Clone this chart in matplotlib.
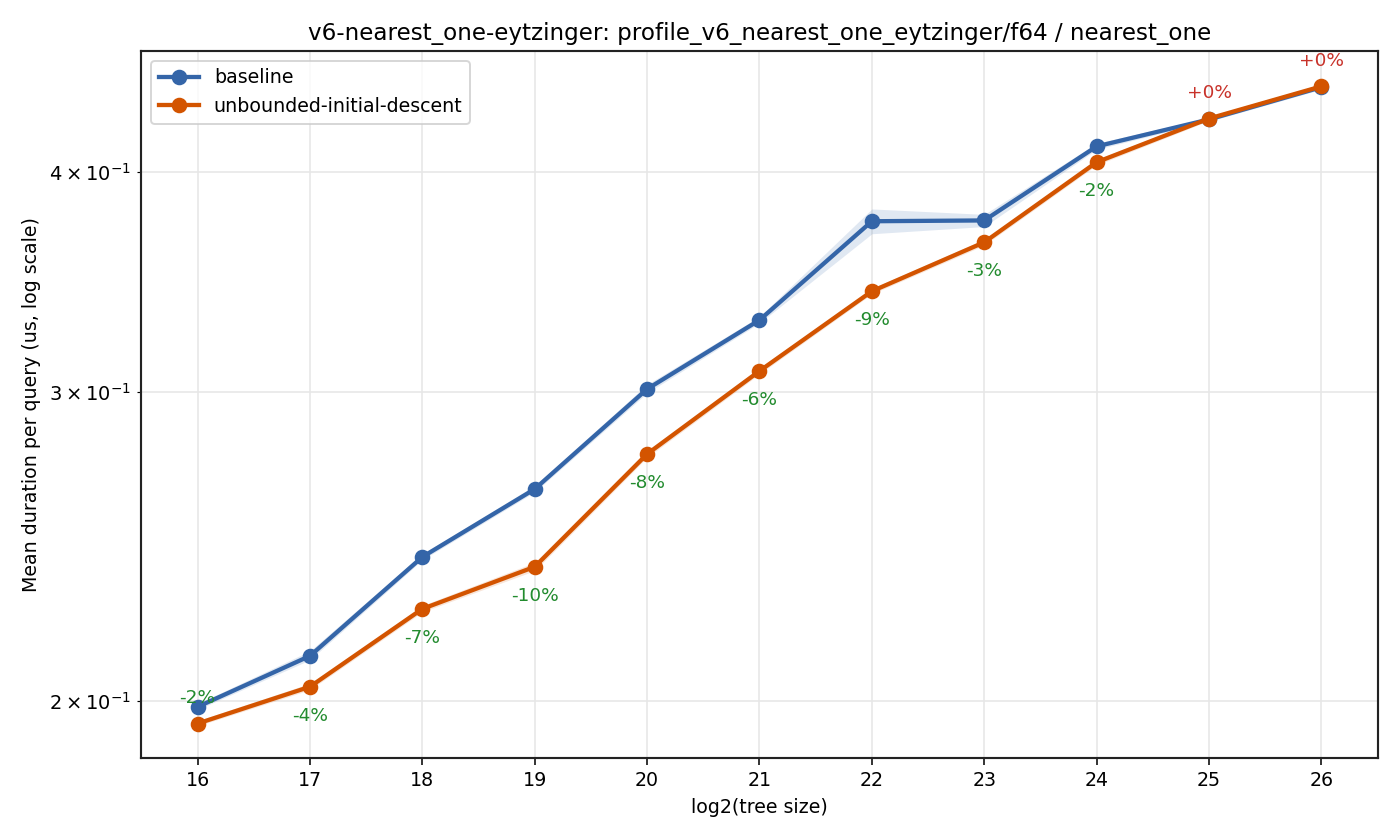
import numpy as np
import matplotlib.pyplot as plt

# log2(tree size)
sizes = [16, 17, 18, 19, 20, 21, 22, 23, 24, 25, 26]

# mean duration per query (us)
baseline = [0.1984, 0.2121, 0.2415, 0.2640, 0.3010, 0.3295, 0.3751, 0.3755, 0.4138, 0.4287, 0.4472]
base_lo = [0.1977, 0.2110, 0.2406, 0.2630, 0.2995, 0.3282, 0.3690, 0.3725, 0.4122, 0.4276, 0.4460]
base_hi = [0.1992, 0.2135, 0.2425, 0.2652, 0.3028, 0.3310, 0.3812, 0.3785, 0.4155, 0.4298, 0.4484]

candidate = [0.1941, 0.2037, 0.2256, 0.2384, 0.2764, 0.3082, 0.3422, 0.3649, 0.4053, 0.4292, 0.4477]
cand_lo = [0.1935, 0.2029, 0.2247, 0.2372, 0.2752, 0.3070, 0.3410, 0.3635, 0.4038, 0.4280, 0.4465]
cand_hi = [0.1948, 0.2046, 0.2266, 0.2398, 0.2777, 0.3095, 0.3435, 0.3663, 0.4068, 0.4304, 0.4490]

pct_labels = ["-2%", "-4%", "-7%", "-10%", "-8%", "-6%", "-9%", "-3%", "-2%", "+0%", "+0%"]

blue = "#3465a8"
orange = "#d35400"

fig, ax = plt.subplots(figsize=(10, 6), dpi=140)
fig.subplots_adjust(left=0.101, right=0.984, top=0.939, bottom=0.098)

ax.fill_between(sizes, base_lo, base_hi, color=blue, alpha=0.15, lw=0)
ax.plot(sizes, baseline, color=blue, lw=2.2, marker="o", ms=7, label="baseline")
ax.fill_between(sizes, cand_lo, cand_hi, color=orange, alpha=0.15, lw=0)
ax.plot(sizes, candidate, color=orange, lw=2.2, marker="o", ms=7,
        label="unbounded-initial-descent")

for i, (x, v, lab) in enumerate(zip(sizes, candidate, pct_labels)):
    up = lab.startswith("+") or v == min(candidate)
    col = "#c8322a" if lab.startswith("+") else "#228b2e"
    ax.annotate(lab, (x, v), xytext=(0, 13 if up else -15), textcoords="offset points",
                ha="center", va="center", color=col, fontsize=9.5)

ax.set_yscale("log")
ax.set_xlim(15.5, 26.5)
ax.set_ylim(0.1856, 0.4688)
ax.set_xticks(sizes)
ax.tick_params(labelsize=9.8)
ax.grid(True, which="both", color="#e6e6e6", lw=0.8)
ax.set_axisbelow(True)
for s in ax.spines.values():
    s.set_color("#222222")
    s.set_linewidth(1.1)

ax.set_xlabel("log2(tree size)", fontsize=9.8)
ax.set_ylabel("Mean duration per query (us, log scale)", fontsize=9.8)
ax.set_title("v6-nearest_one-eytzinger: profile_v6_nearest_one_eytzinger/f64 / nearest_one",
             fontsize=11.8)
ax.legend(loc="upper left", fontsize=9.8, handlelength=2.1)

fig.savefig("out.png", dpi=140)
